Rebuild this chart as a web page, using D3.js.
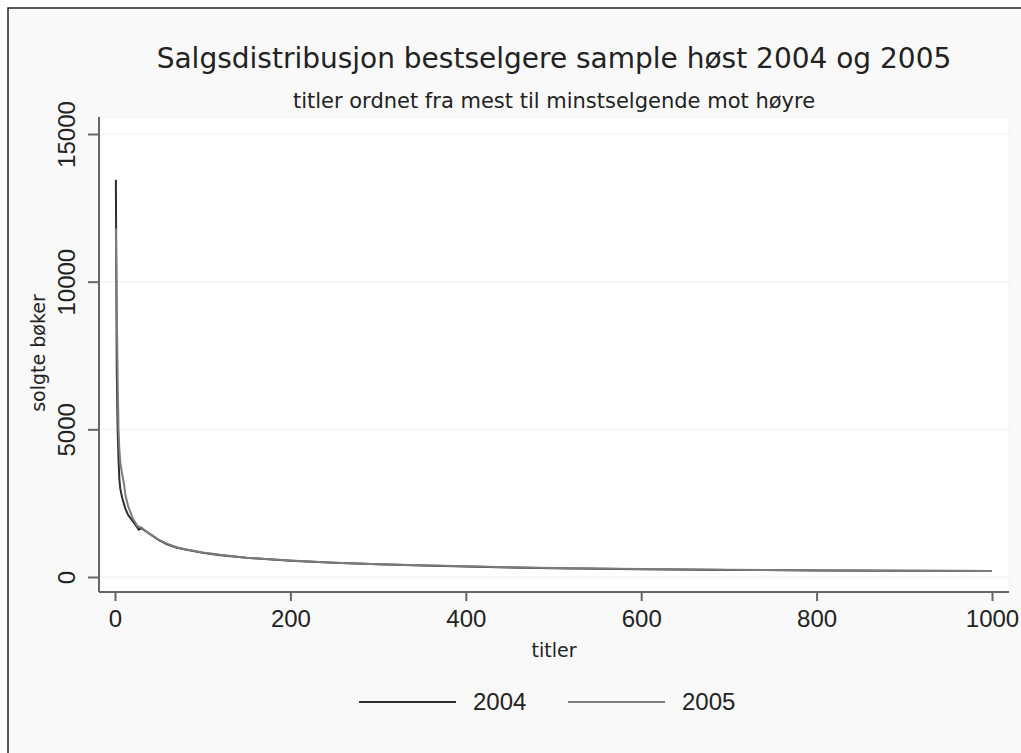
<!DOCTYPE html>
<html><head><meta charset="utf-8">
<script src="https://cdn.jsdelivr.net/npm/d3@7/dist/d3.min.js"></script>
<style>html,body{margin:0;padding:0;background:#fff;}svg{display:block;}</style>
</head><body>
<script>
const title = "Salgsdistribusjon bestselgere sample høst 2004 og 2005";
const subtitle = "titler ordnet fra mest til minstselgende mot høyre";
const yTitle = "solgte bøker";
const xTitle = "titler";
const xTicks = [0, 200, 400, 600, 800, 1000];
const yTicks = [0, 5000, 10000, 15000];
const seriesNames = ["2004", "2005"];
const ranks2004 = [1,2,3,4,5,6,8,10,12,15,20,25,27,30,35,40,50,60,70,80,100,120,150,200,250,300,350,400,450,500,600,700,800,900,1000];
const sales2004 = [13450,7000,5000,4000,3300,3000,2700,2500,2300,2100,1900,1700,1600,1650,1550,1450,1250,1100,1000,930,820,740,650,550,480,430,390,355,325,300,265,240,222,210,200];
const ranks2005 = [1,2,3,4,5,6,8,10,12,15,20,25,27,30,35,40,50,60,70,80,100,120,150,200,250,300,350,400,450,500,600,700,800,900,1000];
const sales2005 = [11800,9000,6800,5000,4300,3900,3500,3200,2750,2400,2000,1750,1700,1680,1560,1450,1260,1120,1010,940,830,750,655,555,485,435,395,360,330,305,270,245,225,212,202];

const W = 1021, H = 753;
const svg = d3.select("body").append("svg").attr("width", W).attr("height", H);
// outer frame
svg.append("rect").attr("x", 8).attr("y", 8).attr("width", W + 20).attr("height", H + 20)
  .attr("fill", "#f9f9f9").attr("stroke", "#222").attr("stroke-width", 1.5);

const plot = {l: 99, r: 1009, t: 117, b: 592};
const x = d3.scaleLinear().domain([0, 1000]).range([115, 992]);
const y = d3.scaleLinear().domain([0, 15000]).range([577, 134]);

svg.append("rect").attr("x", plot.l).attr("y", plot.t).attr("width", plot.r - plot.l).attr("height", plot.b - plot.t)
  .attr("fill", "#ffffff").attr("stroke", "#f2f2f2").attr("stroke-width", 1);

// gridlines
svg.append("g").selectAll("line").data(yTicks).join("line")
  .attr("x1", plot.l).attr("x2", plot.r).attr("y1", d => y(d)).attr("y2", d => y(d))
  .attr("stroke", "#f1f1f1").attr("stroke-width", 1.2);

const numFont = "'Liberation Sans', Arial, sans-serif";
const txtFont = "'DejaVu Sans', sans-serif";

// y axis
const yAxis = svg.append("g").attr("transform", `translate(${plot.l},0)`)
  .call(d3.axisLeft(y).tickValues(yTicks).tickSize(11).tickFormat(d3.format("d")));
yAxis.select(".domain").attr("d", `M0,${plot.t}V${plot.b}`);
yAxis.selectAll(".tick text")
  .attr("x", 0).attr("y", 0).attr("dy", 0)
  .attr("transform", "translate(-24,0) rotate(-90)")
  .attr("text-anchor", "middle")
  .style("font-family", numFont).style("font-size", "24px").attr("fill", "#222");

// x axis
const xAxis = svg.append("g").attr("transform", `translate(0,${plot.b})`)
  .call(d3.axisBottom(x).tickValues(xTicks).tickSize(9).tickPadding(9).tickFormat(d3.format("d")));
xAxis.select(".domain").attr("d", `M${plot.l},0H${plot.r}`);
xAxis.selectAll("text").style("font-family", numFont).style("font-size", "24px").attr("fill", "#222");

svg.selectAll(".domain, .tick line").attr("stroke", "#666").attr("stroke-width", 2);

// lines
const line = d3.line().x(d => x(d[0])).y(d => y(d[1]));
const data2004 = ranks2004.map((r, i) => [r, sales2004[i]]);
const data2005 = ranks2005.map((r, i) => [r, sales2005[i]]);
const colors = ["#2e2e2e", "#7c7c7c"];
svg.append("path").datum(data2004).attr("d", line).attr("fill", "none").attr("stroke", colors[0]).attr("stroke-width", 2);
svg.append("path").datum(data2005).attr("d", line).attr("fill", "none").attr("stroke", colors[1]).attr("stroke-width", 2);

// titles
svg.append("text").attr("x", 554).attr("y", 68).attr("text-anchor", "middle")
  .style("font-family", txtFont).style("font-size", "28px").attr("fill", "#222").text(title);
svg.append("text").attr("x", 554).attr("y", 108).attr("text-anchor", "middle")
  .style("font-family", txtFont).style("font-size", "21px").attr("fill", "#222").text(subtitle);
svg.append("text").attr("transform", "translate(45,353) rotate(-90)").attr("text-anchor", "middle")
  .style("font-family", txtFont).style("font-size", "19px").attr("fill", "#222").text(yTitle);
svg.append("text").attr("x", 554).attr("y", 657).attr("text-anchor", "middle")
  .style("font-family", txtFont).style("font-size", "19px").attr("fill", "#222").text(xTitle);

// legend
const legX = [359, 568];
seriesNames.forEach((name, i) => {
  svg.append("line").attr("x1", legX[i]).attr("x2", legX[i] + 97).attr("y1", 702).attr("y2", 702)
    .attr("stroke", colors[i]).attr("stroke-width", 2);
  svg.append("text").attr("x", legX[i] + 114).attr("y", 710)
    .style("font-family", numFont).style("font-size", "24px").attr("fill", "#222").text(name);
});
</script>
</body></html>
